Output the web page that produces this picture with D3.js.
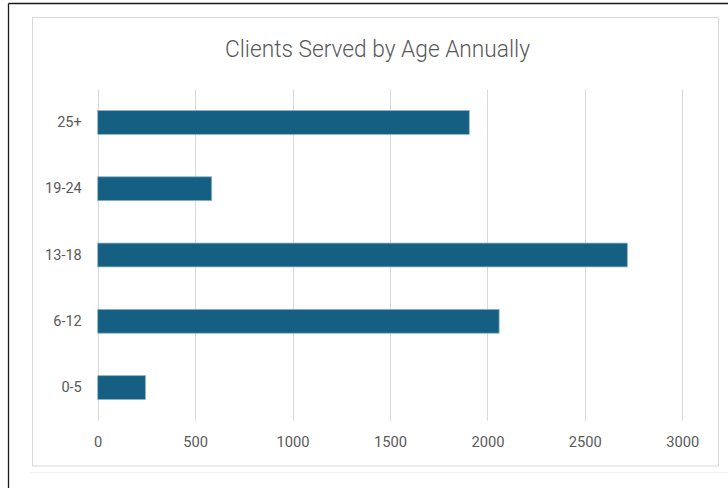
<!DOCTYPE html>
<html>
<head>
<meta charset="utf-8">
<script src="https://cdn.jsdelivr.net/npm/d3@7/dist/d3.min.js"></script>
<style>
  html, body { margin: 0; padding: 0; background: #fff; }
  svg { display: block; }
</style>
</head>
<body>
<svg id="chart" width="728" height="488"></svg>
<script>
const title = "Clients Served by Age Annually";
const categories = ["0-5", "6-12", "13-18", "19-24", "25+"];
const values = [245, 2060, 2718, 585, 1907];
const xTicks = [0, 500, 1000, 1500, 2000, 2500, 3000];

const svg = d3.select("#chart");
const W = 728, H = 488;
const font = "Roboto, 'Open Sans', sans-serif";
const textColor = "#595959";

// outer black frame (top and left edges visible)
svg.append("line").attr("x1", 8.5).attr("x2", W).attr("y1", 3.5).attr("y2", 3.5)
  .attr("stroke", "#1a1a1a").attr("stroke-width", 1.3);
svg.append("line").attr("x1", 8.5).attr("x2", 8.5).attr("y1", 3.5).attr("y2", H)
  .attr("stroke", "#1a1a1a").attr("stroke-width", 1.3);

// faint shadow line
svg.append("line").attr("x1", 29).attr("x2", W).attr("y1", 472.5).attr("y2", 472.5)
  .attr("stroke", "#f3f3f3").attr("stroke-width", 1);

// chart area border
svg.append("rect").attr("x", 32.5).attr("y", 17.5).attr("width", 686).attr("height", 448.5)
  .attr("fill", "#fff").attr("stroke", "#d9d9d9").attr("stroke-width", 1);

const plot = { left: 97.7, right: 682.3, top: 89.3, bottom: 420.7 };

const x = d3.scaleLinear().domain([0, 3000]).range([plot.left, plot.right]);
const y = d3.scaleBand().domain(categories.slice().reverse())
  .range([plot.top, plot.bottom]).paddingInner(0.64).paddingOuter(0.32);

// gridlines
svg.append("g").selectAll("line").data(xTicks).join("line")
  .attr("x1", d => Math.round(x(d)) + 0.5).attr("x2", d => Math.round(x(d)) + 0.5)
  .attr("y1", plot.top).attr("y2", plot.bottom)
  .attr("stroke", "#d9d9d9").attr("stroke-width", 1);

// bars
svg.append("g").selectAll("rect").data(categories).join("rect")
  .attr("x", x(0))
  .attr("y", d => y(d))
  .attr("width", (d, i) => x(values[i]) - x(0))
  .attr("height", y.bandwidth())
  .attr("fill", "#156082")
  .attr("stroke", "#8fb3c6").attr("stroke-width", 0.8);

// x axis labels
const xAxis = d3.axisBottom(x).tickValues(xTicks).tickSize(0).tickPadding(0).tickFormat(d3.format("d"));
const gx = svg.append("g").attr("transform", `translate(0, ${plot.bottom + 16})`).call(xAxis);
gx.select(".domain").remove();
gx.selectAll("text").attr("fill", textColor).attr("font-size", 14.7).attr("font-family", font);

// y axis labels
const yAxis = d3.axisLeft(y).tickSize(0).tickPadding(0);
const gy = svg.append("g").attr("transform", `translate(${plot.left - 16}, 0)`).call(yAxis);
gy.select(".domain").remove();
gy.selectAll("text").attr("fill", textColor).attr("font-size", 14.5).attr("font-family", font);

// title
svg.append("text").attr("x", 377.5).attr("y", 57)
  .attr("text-anchor", "middle")
  .attr("font-family", font).attr("font-size", 23).attr("font-weight", 300)
  .attr("fill", textColor)
  .attr("textLength", 305).attr("lengthAdjust", "spacingAndGlyphs")
  .text(title);
</script>
</body>
</html>
